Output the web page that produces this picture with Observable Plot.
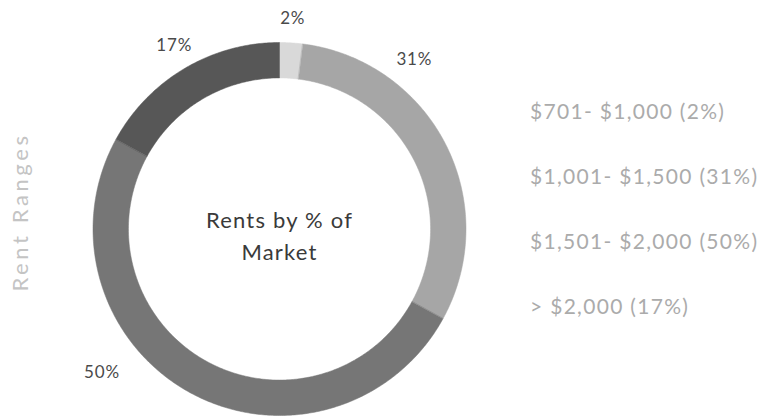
<!DOCTYPE html>
<html>
<head>
<meta charset="utf-8">
<script src="https://cdn.jsdelivr.net/npm/d3@7"></script>
<script src="https://cdn.jsdelivr.net/npm/@observablehq/plot@0.6"></script>
<style>
  html, body { margin: 0; padding: 0; background: #fff; }
  #wrap { position: relative; width: 763px; height: 420px; overflow: hidden; font-family: Lato, "Open Sans", sans-serif; }
  #legend { position: absolute; left: 530px; top: 0; }
  .leg { position: absolute; left: 0; white-space: nowrap; font-size: 21px; font-weight: 400; letter-spacing: 1.3px; color: #ababab; line-height: 1; }
  #ytitle { position: absolute; left: 19px; top: 212px; transform: translate(-50%, -50%) rotate(-90deg); white-space: nowrap; font-size: 22px; font-weight: 400; letter-spacing: 3.6px; color: #c4c4c4; }
</style>
</head>
<body>
<div id="wrap">
  <div id="chart"></div>
  <div id="ytitle">Rent Ranges</div>
  <div id="legend"></div>
</div>
<script>
// ---- data ----
const categories = ["$701- $1,000", "$1,001- $1,500", "$1,501- $2,000", "> $2,000"];
const shares = [2, 31, 50, 17];
const colors = ["#d9d9d9", "#a6a6a6", "#767676", "#575757"];
const centerTitle = "Rents by % of\nMarket";
const axisTitle = "Rent Ranges";

// ---- geometry (unit-circle coordinates) ----
const inner = 0.81;
const pie = d3.pie().sort(null).value(d => d)(shares);
const pts = [];
pie.forEach((s, i) => {
  const n = Math.max(4, Math.ceil((s.endAngle - s.startAngle) / 0.01));
  for (let k = 0; k <= n; k++) {
    const a = s.startAngle + (s.endAngle - s.startAngle) * k / n;
    pts.push({cat: categories[i], x: Math.sin(a), y: Math.cos(a)});
  }
  for (let k = n; k >= 0; k--) {
    const a = s.startAngle + (s.endAngle - s.startAngle) * k / n;
    pts.push({cat: categories[i], x: inner * Math.sin(a), y: inner * Math.cos(a)});
  }
});

// label placement: slice midpoint, outside the ring, with Excel-like nudges
const nudges = [[0, 0], [-53, -74], [-76, -41], [2, -2]];
const labels = pie.map((s, i) => {
  const a = (s.startAngle + s.endAngle) / 2;
  return {text: shares[i] + "%", x: 1.13 * Math.sin(a), y: 1.13 * Math.cos(a), dx: nudges[i][0], dy: nudges[i][1]};
});

const cx = 279, cy = 228.5, R = 186.5;
const chart = Plot.plot({
  width: 763, height: 420,
  margin: 0,
  style: {fontFamily: "Lato, 'Open Sans', sans-serif", background: "#fff"},
  x: {domain: [-1, 1], range: [cx - R, cx + R], axis: null},
  y: {domain: [-1, 1], range: [cy + R, cy - R], axis: null},
  color: {domain: categories, range: colors},
  marks: [
    Plot.line(pts, {x: "x", y: "y", z: "cat", fill: "cat", stroke: "cat", strokeWidth: 0.5, curve: "linear-closed"}),
    ...labels.map(l => Plot.text([l], {x: "x", y: "y", text: "text", dx: l.dx, dy: l.dy, fontSize: 17, fill: "#4a4a4a"})),
    Plot.text([centerTitle], {x: () => 0, y: () => 0, text: d => d, dy: 5, fontSize: 22, lineHeight: 1.45, fill: "#3a3a3a"})
  ]
});
chart.querySelectorAll("text").forEach(t => {
  if (t.textContent.includes("Rents") || t.textContent.includes("Market")) t.style.letterSpacing = "1.2px";
  else t.style.letterSpacing = "0.8px";
});
document.getElementById("chart").appendChild(chart);

const legend = document.getElementById("legend");
const legTops = [100, 165, 230, 295];
categories.forEach((c, i) => {
  const d = document.createElement("div");
  d.className = "leg";
  d.style.top = legTops[i] + "px";
  d.textContent = `${c} (${shares[i]}%)`;
  legend.appendChild(d);
});
document.getElementById("ytitle").textContent = axisTitle;
</script>
</body>
</html>
